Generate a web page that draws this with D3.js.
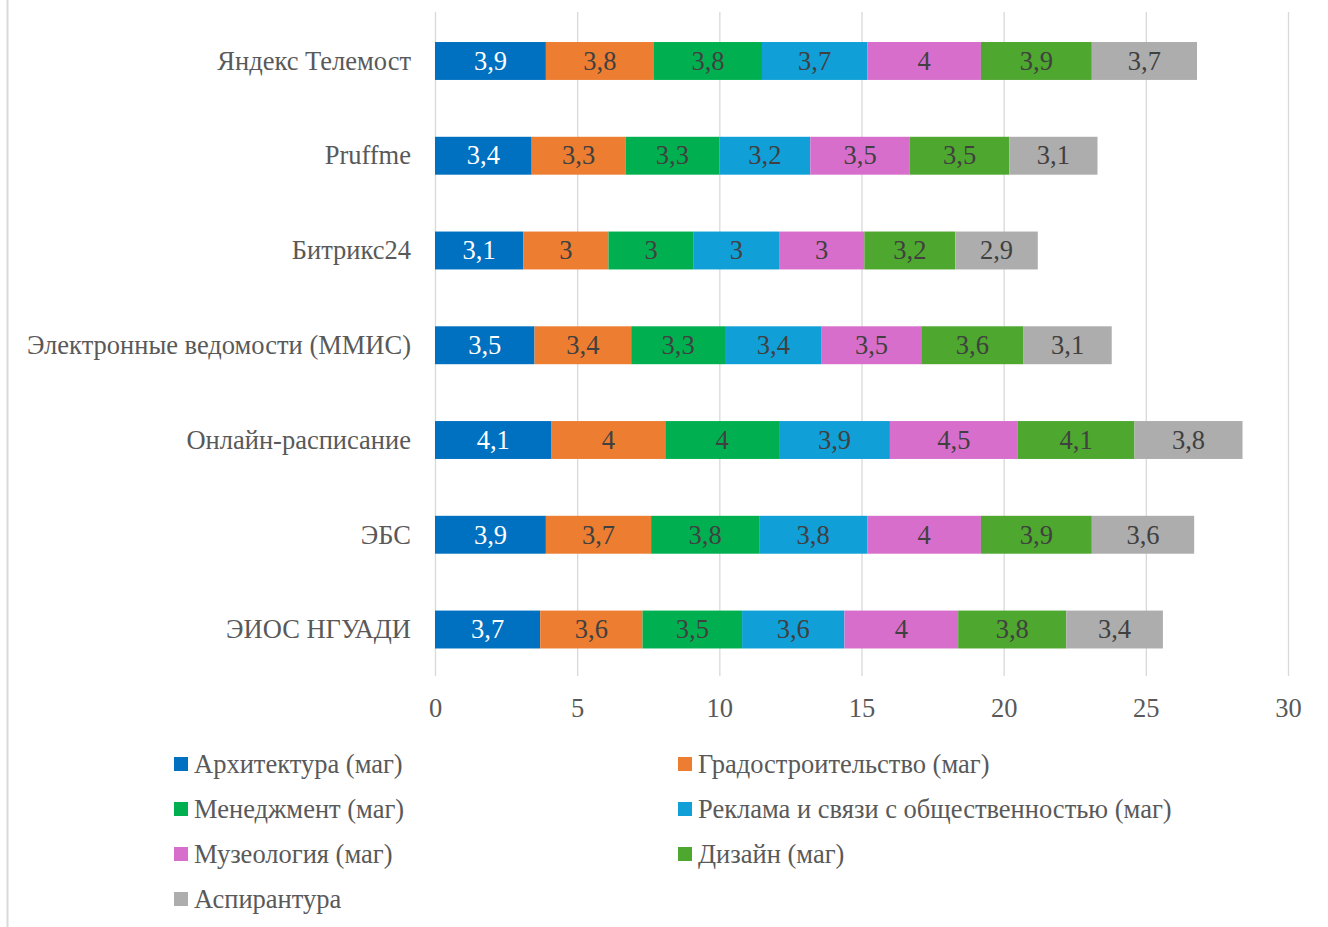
<!DOCTYPE html>
<html><head><meta charset="utf-8">
<script src="https://cdn.jsdelivr.net/npm/d3@7"></script>
<style>body{margin:0;background:#fff}svg{display:block}</style>
</head><body>
<svg id="c" width="1328" height="927"></svg>
<script>
const categories = ["Яндекс Телемост","Pruffme","Битрикс24","Электронные ведомости (ММИС)","Онлайн-расписание","ЭБС","ЭИОС НГУАДИ"];
const seriesNames = ["Архитектура (маг)","Градостроительство (маг)","Менеджмент (маг)","Реклама и связи с общественностью (маг)","Музеология (маг)","Дизайн (маг)","Аспирантура"];
const arch   = [3.9,3.4,3.1,3.5,4.1,3.9,3.7];
const grad   = [3.8,3.3,3,3.4,4,3.7,3.6];
const manag  = [3.8,3.3,3,3.3,4,3.8,3.5];
const rekl   = [3.7,3.2,3,3.4,3.9,3.8,3.6];
const muz    = [4,3.5,3,3.5,4.5,4,4];
const diz    = [3.9,3.5,3.2,3.6,4.1,3.9,3.8];
const asp    = [3.7,3.1,2.9,3.1,3.8,3.6,3.4];
const xTicks = [0,5,10,15,20,25,30];
const colors = ["#0070C0","#ED7D31","#00B050","#119FD7","#D86ECC","#4EA72E","#ADADAD"];

const seriesValues = [arch,grad,manag,rekl,muz,diz,asp];
const rows = categories.map((c,i)=>{const o={cat:c}; seriesNames.forEach((s,j)=>o[s]=seriesValues[j][i]); return o;});
const stack = d3.stack().keys(seriesNames)(rows);

const svg = d3.select("#c");
const FF = '"Liberation Serif"';
const FS = 26.5;
svg.append("line").attr("x1",7.5).attr("x2",7.5).attr("y1",0).attr("y2",927).attr("stroke","#d9d9d9").attr("stroke-width",2);

const x = d3.scaleLinear().domain([0,30]).range([435,1288]);
const y = d3.scaleBand().domain(categories).range([13.6,676.9]).paddingInner(0.6).paddingOuter(0.3);

svg.append("g").selectAll("line").data(xTicks).join("line")
  .attr("x1",d=>x(d)+0.5).attr("x2",d=>x(d)+0.5).attr("y1",12).attr("y2",676)
  .attr("stroke","#d9d9d9").attr("stroke-width",1.3);

const g = svg.append("g");
stack.forEach((layer,j)=>{
  const lg = g.append("g");
  lg.selectAll("rect").data(layer).join("rect")
    .attr("x",d=>x(d[0])).attr("width",d=>x(d[1])-x(d[0]))
    .attr("y",d=>y(d.data.cat)).attr("height",y.bandwidth())
    .attr("fill",colors[j]);
  lg.selectAll("text").data(layer).join("text")
    .attr("x",d=>(x(d[0])+x(d[1]))/2).attr("y",d=>y(d.data.cat)+y.bandwidth()/2)
    .attr("dy","0.33em").attr("text-anchor","middle")
    .style("font-family",FF).style("font-size",FS+"px")
    .attr("fill",j===0?"#ffffff":"#404040")
    .text(d=>String(+(d[1]-d[0]).toFixed(1)).replace(".",","));
});

svg.append("g").selectAll("text").data(categories).join("text")
  .attr("x",411).attr("y",d=>y(d)+y.bandwidth()/2).attr("dy","0.33em")
  .attr("text-anchor","end").style("font-family",FF).style("font-size",FS+"px").attr("fill","#595959")
  .text(d=>d);

const ax = svg.append("g").attr("transform","translate(0,676)")
  .call(d3.axisBottom(x).tickValues(xTicks).tickSize(0).tickPadding(22).tickFormat(d=>d));
ax.select(".domain").remove();
ax.selectAll("text").style("font-family",FF).style("font-size",FS+"px").attr("fill","#595959");

const legPos = [[174,764],[678,764],[174,809],[678,809],[174,854],[678,854],[174,899]];
const leg = svg.append("g").selectAll("g").data(seriesNames).join("g")
  .attr("transform",(d,i)=>`translate(${legPos[i][0]},${legPos[i][1]})`);
leg.append("rect").attr("x",0).attr("y",-7).attr("width",14).attr("height",14).attr("fill",(d,i)=>colors[i]);
leg.append("text").attr("x",20).attr("y",0).attr("dy","0.33em")
  .style("font-family",FF).style("font-size",FS+"px").attr("fill","#595959").text(d=>d);
</script>
</body></html>
